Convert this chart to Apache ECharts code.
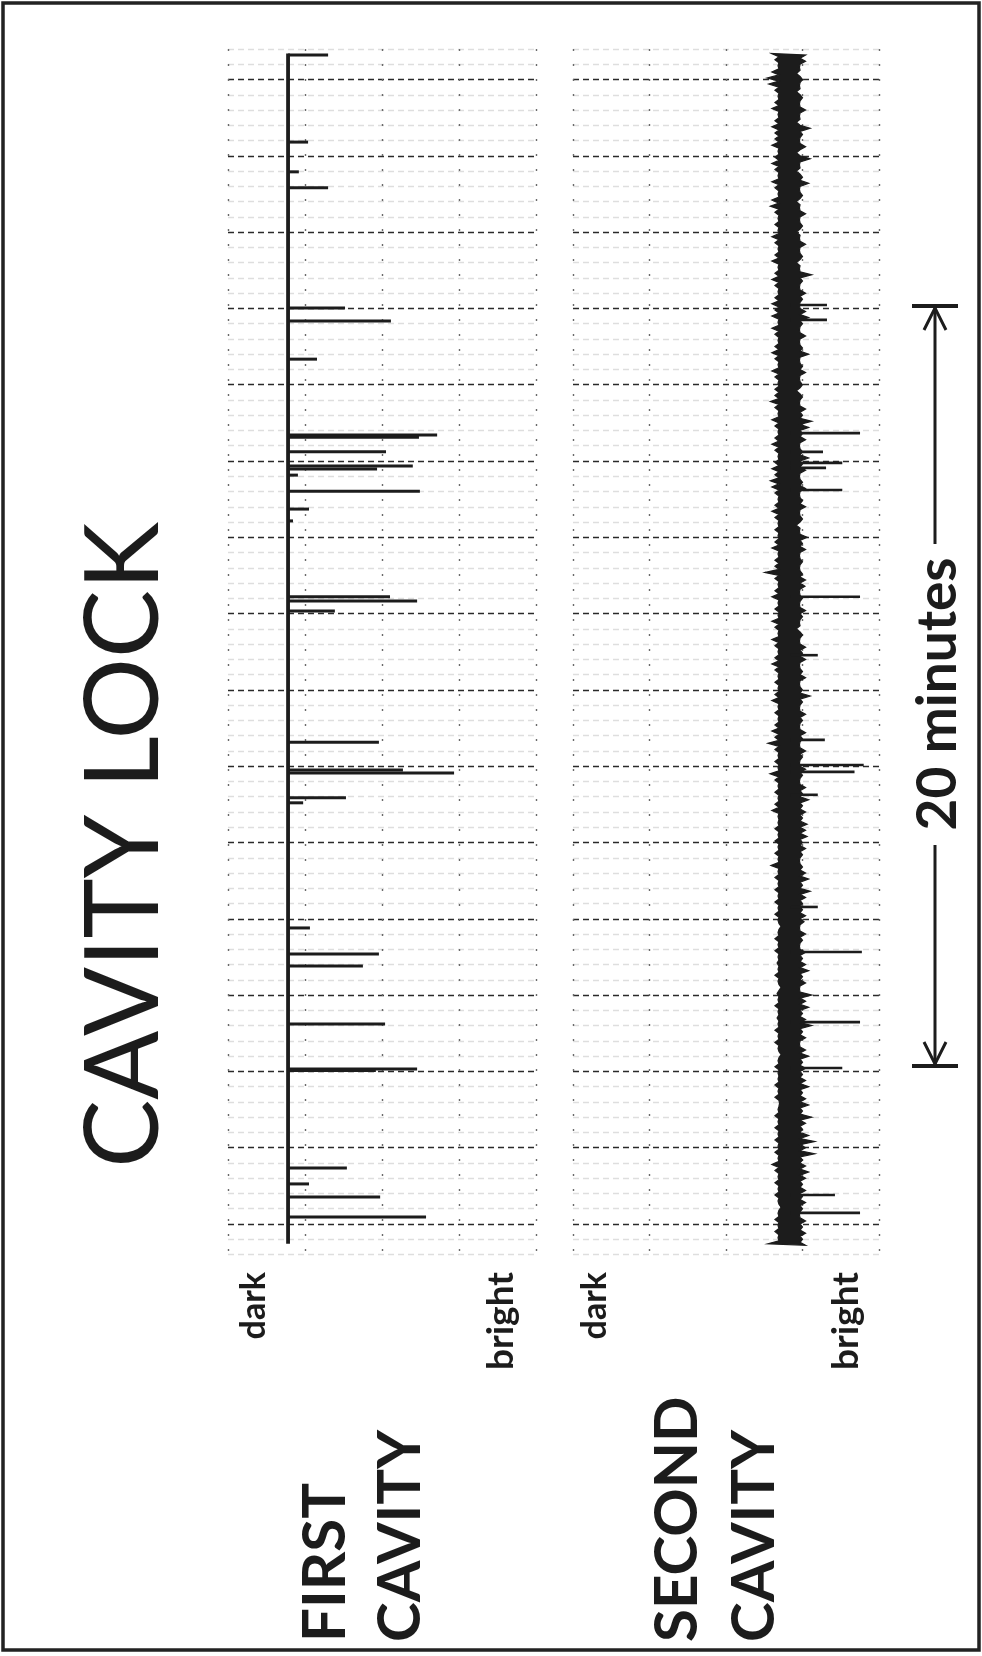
<!DOCTYPE html>
<html>
<head>
<meta charset="utf-8">
<title>Cavity lock</title>
<script src="https://cdn.jsdelivr.net/npm/echarts@6/dist/echarts.min.js"></script>
<style>
html, body { margin: 0; padding: 0; background: #fff; }
#chart { width: 982px; height: 1656px; }
</style>
</head>
<body>
<div id="chart"></div>
<script>
// time in minutes, running up the page; 0 sits on a major grid line near the bottom
var timeStart = 30.68, timeEnd = -0.52;

// first cavity: dark level and the bright spikes
var firstDark = 19.5;
var firstSpikeTime = [30.64, 28.36, 27.58, 27.16, 24.01, 23.67, 22.67, 20.68, 20.62, 20.24, 19.87, 19.79, 19.63, 19.21, 18.74, 18.43, 16.44, 16.33, 16.07, 12.63, 11.90, 11.82, 11.17, 11.04, 7.76, 7.08, 6.76, 5.24, 4.06, 4.02, 1.47, 1.05, 0.71, 0.18];
var firstSpikePeak = [32.5, 26, 23, 32.5, 38, 52.9, 28.9, 67.9, 62, 51.3, 60, 48.4, 22.7, 62.3, 26.3, 21.1, 52.6, 61.4, 34.7, 49, 56.8, 73.4, 38.3, 24.4, 26.6, 49, 43.8, 51, 61.4, 48, 38.6, 26.3, 49.4, 64.3];

// second cavity: solid core of the noisy band and the tips of its hairs,
// one sample every 0.16 min from the top
var noiseStep = 0.16;
var secondCoreLeft = 67.3, secondCoreRight = 74.2;
var secondLeft = [
    65, 66, 67, 65, 63.5, 64, 66, 67, 66, 65, 67, 66, 65, 66,
    66, 65, 67, 66, 65, 66, 67, 65, 66, 67, 65, 64.5, 66, 67,
    66, 67, 65, 66, 67, 66, 65, 67, 66, 65, 66, 67, 66, 65,
    66, 65, 67, 65, 66, 67, 66, 65, 66, 67, 65, 66, 67, 66,
    66, 64.5, 66, 67, 65, 66, 67, 66, 65, 66, 67, 66, 65, 66,
    64.5, 65, 66, 67, 66, 65, 66, 67, 66, 67, 66, 65, 67, 66,
    66, 62.7, 66, 67, 66, 65, 67, 66, 67, 65, 66, 67, 65, 66,
    67, 66, 65, 66, 67, 66, 67, 66, 65, 67, 66, 67, 66, 65,
    66, 63.7, 66, 67, 66, 67, 64.4, 66, 67, 66, 67, 66, 65, 67,
    67, 66, 67, 66, 67, 66, 67, 64.7, 67, 66, 67, 66, 67, 66,
    67, 66, 67, 68, 67, 66, 67, 66, 67, 66.7, 67, 66, 67, 68,
    66.7, 67, 66, 67, 66.7, 67, 66, 67, 66, 67, 68, 67, 66, 67,
    67, 66, 67, 66, 67.5, 67, 66, 67, 66, 67, 66, 67, 66, 67,
    65, 66, 67, 66, 67, 66, 67, 68, 67, 66, 67, 66, 67, 63.7
];
var secondRight = [
    76, 76, 74, 73, 75, 74, 73, 75, 74, 76, 74, 73, 77.5, 75,
    74, 76, 73, 77.5, 74, 73, 75, 77, 74, 75, 73, 74, 76, 74,
    75, 73, 74, 76, 74, 75, 73, 74, 78, 75, 74, 76, 75, 74,
    76, 77, 75, 74, 76, 74, 75, 77, 74, 75, 76, 74, 75, 73,
    75, 74, 76, 75, 78, 77, 75, 76, 74, 75, 77, 75, 76, 74,
    75, 76, 74, 75, 76, 74, 75, 73, 74, 76.5, 75, 76, 74, 75,
    74, 75, 76, 75.8, 74, 75, 74, 76, 75, 74, 73, 75, 74, 76,
    75, 76, 74, 75, 76, 74, 75, 77.5, 75, 74, 76, 75, 74, 76,
    75, 74, 76, 75, 74, 76, 75, 74, 76, 75, 77, 75, 76, 75,
    76.5, 76, 76.5, 75, 76, 75, 74, 75, 76, 77, 75, 77.5, 76, 75,
    75, 76, 75.5, 74, 76, 75, 74, 76, 75, 76, 77, 75, 76, 74,
    78, 76, 77, 75, 76, 78, 75, 76, 74, 76, 77, 75, 76, 75,
    76, 77, 75, 76, 77, 75, 78, 76, 75, 77, 79, 76, 79, 75,
    76, 77, 76, 75, 76, 75, 76, 75, 74, 76, 75, 76, 75, 76
];
var secondMid = 71;
var secondSpikeTime = [24.09, 23.70, 20.73, 20.24, 19.95, 19.82, 19.24, 16.44, 14.91, 12.69, 12.03, 11.85, 11.25, 8.31, 7.13, 5.29, 4.09, 0.76, 0.29];
var secondSpikePeak = [83, 83, 93.8, 81.7, 88, 82.7, 88, 93.8, 80, 82.3, 95, 92, 80, 80, 94.4, 93.8, 88, 85.6, 93.8];

var ink = '#1c1c1c';
var font = 'Lato, "Open Sans", sans-serif';

var chart = echarts.init(document.getElementById('chart'));

// chart-paper look: dotted columns, faint minor rows, dark row every 2 minutes
function levelAxis(idx) {
    return {
        type: 'value', gridIndex: idx, min: 0, max: 100, interval: 25,
        axisLine: {show: false}, axisTick: {show: false}, axisLabel: {show: false},
        splitLine: {show: true, lineStyle: {color: '#6a6a6a', width: 1.4, type: [2, 13]}}
    };
}
function timeAxis(idx) {
    return {
        type: 'value', gridIndex: idx, min: -0.8, max: 30.8, interval: 0.4,
        axisLine: {show: false}, axisTick: {show: false}, axisLabel: {show: false},
        splitLine: {
            show: true,
            lineStyle: {color: ['#dedede', '#dedede', '#2a2a2a', '#dedede', '#dedede'], width: 1.4, type: [6, 4]}
        }
    };
}

function spikeItem(base, width) {
    return function (params, api) {
        var a = api.coord([base, api.value(0)]);
        var b = api.coord([api.value(1), api.value(0)]);
        return {
            type: 'line',
            shape: {x1: a[0], y1: a[1], x2: b[0], y2: b[1]},
            style: {stroke: ink, lineWidth: width}
        };
    };
}

// band outline: hair tip, back to the core, next hair tip ...
function bandItem(params, api) {
    var pts = [];
    var n = secondLeft.length;
    for (var i = 0; i < n; i++) {
        var t = timeStart - i * noiseStep;
        pts.push(api.coord([secondLeft[i], t]));
        if (i < n - 1) pts.push(api.coord([secondCoreLeft, t - noiseStep / 2]));
    }
    for (var j = n - 1; j >= 0; j--) {
        var u = timeStart - j * noiseStep;
        if (j < n - 1) pts.push(api.coord([secondCoreRight, u - noiseStep * 0.75]));
        pts.push(api.coord([secondRight[j], u - noiseStep * 0.25]));
    }
    return {type: 'polygon', shape: {points: pts}, style: {fill: ink, stroke: ink, lineWidth: 1.2}};
}

function rotText(text, x, y, size, align, weight) {
    return {
        type: 'text', x: x, y: y, rotation: Math.PI / 2,
        style: {text: text, font: weight + ' ' + size + 'px ' + font, fill: ink, align: align, verticalAlign: 'middle'}
    };
}

var option = {
    backgroundColor: '#fff',
    animation: false,
    grid: [
        {left: 228, right: 446, top: 49, bottom: 401.5, containLabel: false, outerBoundsMode: 'none'},
        {left: 573, right: 103, top: 49, bottom: 401.5, containLabel: false, outerBoundsMode: 'none'}
    ],
    xAxis: [levelAxis(0), levelAxis(1)],
    yAxis: [timeAxis(0), timeAxis(1)],
    series: [
        {
            name: 'first cavity', type: 'line', xAxisIndex: 0, yAxisIndex: 0,
            symbol: 'none', lineStyle: {color: ink, width: 3.8},
            data: [[firstDark, timeStart], [firstDark, timeEnd]]
        },
        {
            name: 'first cavity spikes', type: 'custom', xAxisIndex: 0, yAxisIndex: 0,
            encode: {x: 1, y: 0},
            renderItem: spikeItem(firstDark, 3),
            data: firstSpikeTime.map(function (t, i) { return [t, firstSpikePeak[i]]; })
        },
        {
            name: 'second cavity', type: 'custom', xAxisIndex: 1, yAxisIndex: 1,
            encode: {x: 1, y: 0},
            renderItem: bandItem,
            data: [[timeStart, secondMid]]
        },
        {
            name: 'second cavity spikes', type: 'custom', xAxisIndex: 1, yAxisIndex: 1,
            encode: {x: 1, y: 0},
            renderItem: spikeItem(secondMid, 2.6),
            data: secondSpikeTime.map(function (t, i) { return [t, secondSpikePeak[i]]; })
        }
    ],
    graphic: {
        elements: [
            {type: 'rect', shape: {x: 3, y: 3, width: 976, height: 1647}, style: {fill: 'none', stroke: '#222', lineWidth: 3.5}},
            rotText('CAVITY LOCK', 125, 845, 102, 'center', 400),
            rotText('dark', 254, 1272, 34, 'right', 700),
            rotText('bright', 501, 1272, 37, 'right', 700),
            rotText('dark', 595, 1272, 34, 'right', 700),
            rotText('bright', 846, 1272, 37, 'right', 700),
            rotText('FIRST', 326, 1642, 60, 'left', 700),
            rotText('CAVITY', 401, 1642, 60, 'left', 700),
            rotText('SECOND', 678, 1642, 60, 'left', 700),
            rotText('CAVITY', 755, 1642, 60, 'left', 700),
            rotText('20 minutes', 938, 694, 55, 'center', 700),
            // span arrow for 20 minutes
            {type: 'line', shape: {x1: 912, y1: 1066, x2: 958, y2: 1066}, style: {stroke: ink, lineWidth: 4}},
            {type: 'line', shape: {x1: 935, y1: 1064, x2: 935, y2: 845}, style: {stroke: ink, lineWidth: 3}},
            {type: 'polyline', shape: {points: [[924, 1042], [935, 1064], [946, 1042]]}, style: {stroke: ink, lineWidth: 3, fill: 'none'}},
            {type: 'line', shape: {x1: 912, y1: 306, x2: 958, y2: 306}, style: {stroke: ink, lineWidth: 4}},
            {type: 'line', shape: {x1: 935, y1: 308, x2: 935, y2: 544}, style: {stroke: ink, lineWidth: 3}},
            {type: 'polyline', shape: {points: [[924, 330], [935, 308], [946, 330]]}, style: {stroke: ink, lineWidth: 3, fill: 'none'}}
        ]
    }
};

chart.setOption(option);
</script>
</body>
</html>
